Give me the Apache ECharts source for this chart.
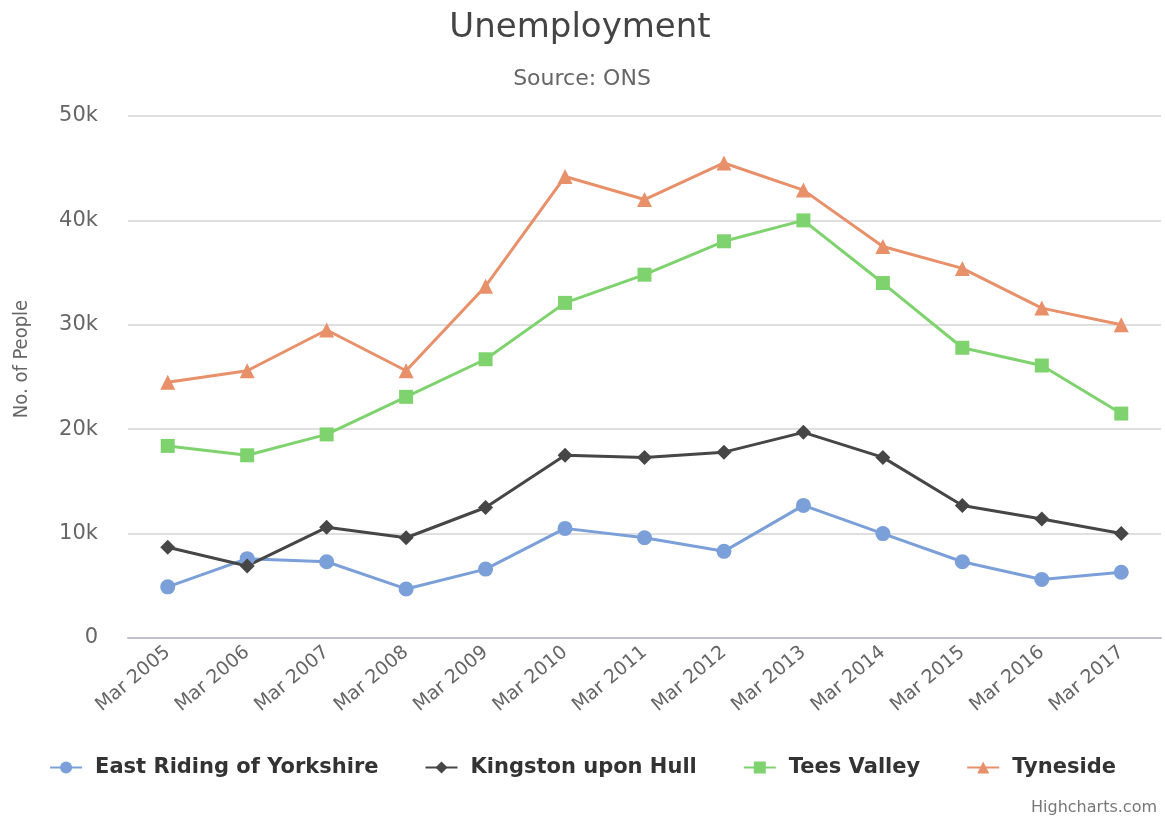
<!DOCTYPE html>
<html>
<head>
<meta charset="utf-8">
<script src="https://cdn.jsdelivr.net/npm/echarts@6/dist/echarts.min.js"></script>
<style>
  html, body { margin: 0; padding: 0; background: #ffffff; }
  #chart { width: 1165px; height: 816px; }
</style>
</head>
<body>
<div id="chart"></div>
<script>
// Unemployment by area, March each year (number of people)
const categories = ['Mar 2005', 'Mar 2006', 'Mar 2007', 'Mar 2008', 'Mar 2009', 'Mar 2010',
  'Mar 2011', 'Mar 2012', 'Mar 2013', 'Mar 2014', 'Mar 2015', 'Mar 2016', 'Mar 2017'];

const eastRiding = [4900, 7600, 7300, 4700, 6600, 10500, 9600, 8300, 12700, 10000, 7300, 5600, 6300];
const kingstonUponHull = [8700, 6900, 10600, 9600, 12500, 17500, 17300, 17800, 19700, 17300, 12700, 11400, 10000];
const teesValley = [18400, 17500, 19500, 23100, 26700, 32100, 34800, 38000, 40000, 34000, 27800, 26100, 21500];
const tyneside = [24500, 25600, 29500, 25600, 33700, 44200, 42000, 45500, 42900, 37500, 35400, 31600, 30000];

const yTicks = [0, 10000, 20000, 30000, 40000, 50000];

const seriesDefs = [
  { name: 'East Riding of Yorkshire', data: eastRiding, color: '#7b9fd8', symbol: 'circle', size: 15 },
  { name: 'Kingston upon Hull', data: kingstonUponHull, color: '#464646', symbol: 'diamond', size: 15 },
  { name: 'Tees Valley', data: teesValley, color: '#7fd36e', symbol: 'rect', size: 14 },
  { name: 'Tyneside', data: tyneside, color: '#e8906a', symbol: 'triangle', size: 15 }
];

const chart = echarts.init(document.getElementById('chart'));

chart.setOption({
  backgroundColor: '#ffffff',
  animation: false,
  title: [
    {
      text: 'Unemployment',
      left: 575, top: 6, textAlign: 'center',
      textStyle: { fontFamily: 'DejaVu Sans', fontSize: 34, fontWeight: 'normal', color: '#444444' }
    },
    {
      text: 'Source: ONS',
      left: 577, top: 63, textAlign: 'center',
      textStyle: { fontFamily: 'DejaVu Sans', fontSize: 22, fontWeight: 'normal', color: '#666666' }
    },
    {
      text: 'Highcharts.com',
      right: 3, top: 795,
      textStyle: { fontFamily: 'DejaVu Sans', fontSize: 16, fontWeight: 'normal', color: '#777777' }
    }
  ],
  graphic: [
    {
      type: 'text',
      x: 22, y: 359,
      rotation: Math.PI / 2,
      style: {
        text: 'No. of People',
        align: 'center', verticalAlign: 'middle',
        font: '20px "DejaVu Sans Condensed"',
        fill: '#666666'
      }
    }
  ],
  legend: {
    bottom: 33,
    left: 'center',
    itemGap: 46,
    itemWidth: 32,
    itemHeight: 15,
    textStyle: {
      fontFamily: 'DejaVu Sans', fontSize: 21, fontWeight: 'bold', color: '#333333',
      padding: [0, 0, 0, 8]
    },
    data: seriesDefs.map(s => s.name)
  },
  grid: { left: 128, right: 4, top: 116, bottom: 178, containLabel: false },
  xAxis: {
    type: 'category',
    data: categories,
    boundaryGap: true,
    axisLine: { lineStyle: { color: '#c0c0d0', width: 2 } },
    axisTick: { show: false },
    axisLabel: {
      rotate: 40, interval: 0, margin: 12,
      fontFamily: 'DejaVu Sans', fontSize: 19, color: '#666666'
    }
  },
  yAxis: {
    type: 'value',
    min: 0, max: 50000, interval: 10000,
    axisLine: { show: false },
    axisTick: { show: false },
    axisLabel: {
      margin: 30,
      fontFamily: 'DejaVu Sans', fontSize: 21, color: '#666666',
      formatter: v => yTicks.includes(v) ? (v === 0 ? '0' : (v / 1000) + 'k') : ''
    },
    splitLine: { lineStyle: { color: '#d4d4d4', width: 1.5 } }
  },
  series: seriesDefs.map(s => ({
    name: s.name,
    type: 'line',
    data: s.data,
    symbol: s.symbol,
    symbolSize: s.size,
    showAllSymbol: true,
    color: s.color,
    lineStyle: { color: s.color, width: 3 },
    itemStyle: { color: s.color, borderWidth: 0 }
  }))
});
</script>
</body>
</html>
